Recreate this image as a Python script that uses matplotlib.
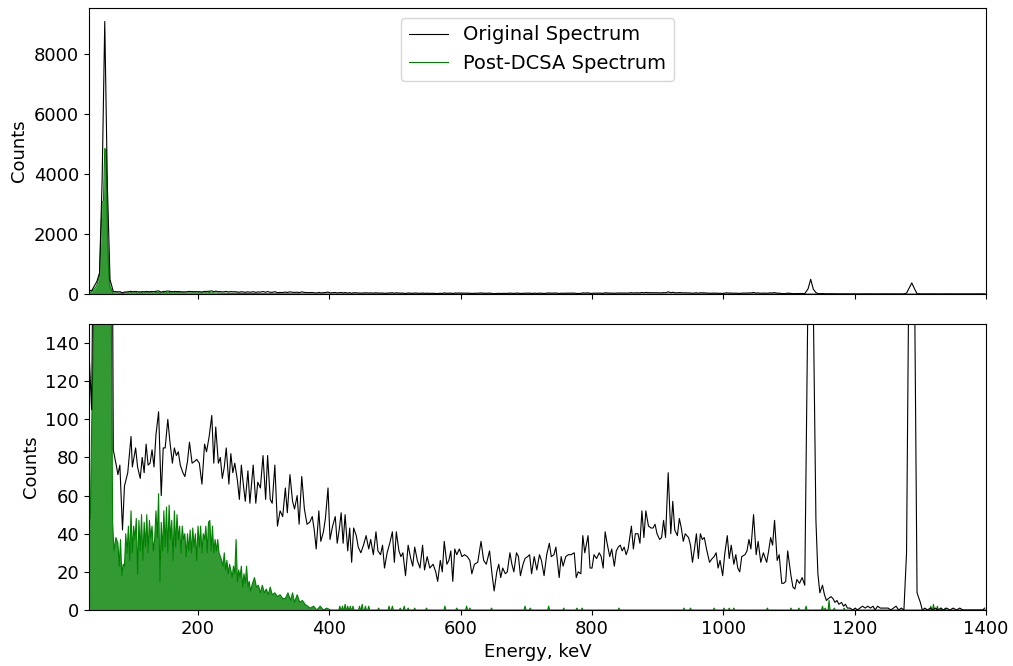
import numpy as np
import matplotlib
matplotlib.use("Agg")
import matplotlib.pyplot as plt
from matplotlib.lines import Line2D

# ---- Original spectrum (energy keV, counts) ----
orig_E = [34, 38, 42, 46, 50, 54, 58, 62, 66, 71, 76, 78, 81, 85, 88, 93, 98, 100, 105, 108,
          112, 115, 118, 121, 124, 127, 130, 133, 136, 140, 144, 147, 150, 154, 157, 161, 164, 167, 170, 173,
          177, 180, 184, 187, 191, 195, 198, 202, 206, 210, 213, 217, 221, 224, 227, 231, 234, 237, 240, 243,
          247, 250, 253, 256, 260, 263, 266, 269, 272, 276, 279, 284, 288, 291, 295, 299, 303, 306, 310, 313,
          317, 321, 325, 329, 333, 336, 340, 344, 347, 351, 354, 358, 362, 366, 370, 374, 377, 380, 384, 387,
          391, 394, 398, 401, 405, 409, 412, 415, 418, 421, 424, 428, 431, 434, 437, 441, 444, 448, 452, 456,
          460, 463, 467, 471, 474, 478, 481, 484, 488, 492, 496, 499, 502, 506, 509, 512, 516, 520, 524, 527,
          530, 534, 538, 542, 545, 549, 553, 558, 562, 565, 569, 572, 575, 579, 582, 585, 588, 591, 594, 598,
          602, 606, 610, 614, 617, 621, 626, 631, 635, 639, 644, 648, 651, 655, 658, 661, 664, 668, 671, 675,
          678, 681, 685, 688, 691, 695, 698, 702, 705, 708, 712, 716, 720, 723, 727, 731, 735, 738, 742, 745,
          750, 753, 756, 760, 764, 768, 773, 776, 779, 783, 786, 789, 794, 797, 800, 803, 807, 811, 814, 817,
          820, 823, 827, 830, 834, 837, 840, 843, 846, 849, 852, 855, 860, 863, 866, 870, 873, 876, 879, 882,
          886, 890, 893, 896, 899, 903, 906, 909, 912, 916, 920, 923, 926, 930, 933, 936, 939, 942, 947, 950,
          953, 956, 959, 962, 965, 968, 971, 975, 979, 983, 986, 989, 992, 995, 999, 1002, 1006, 1009, 1012, 1016,
          1019, 1022, 1025, 1028, 1033, 1036, 1039, 1042, 1046, 1050, 1053, 1057, 1061, 1066, 1069, 1072, 1075, 1078, 1082, 1085,
          1089, 1092, 1095, 1098, 1103, 1106, 1109, 1112, 1116, 1120, 1124, 1129, 1133, 1137, 1141, 1144, 1147, 1151, 1154, 1157,
          1160, 1164, 1167, 1170, 1173, 1176, 1180, 1183, 1186, 1189, 1193, 1197, 1201, 1204, 1208, 1212, 1216, 1220, 1224, 1228,
          1231, 1235, 1239, 1243, 1247, 1251, 1255, 1259, 1263, 1267, 1271, 1275, 1279, 1283, 1287, 1291, 1295, 1300, 1303, 1307,
          1311, 1315, 1319, 1323, 1327, 1331, 1335, 1340, 1345, 1350, 1355, 1360, 1365, 1380, 1395, 1398]
orig_C = [136, 105, 260, 420, 700, 3800, 9080, 3600, 480, 84, 75, 71, 76, 42, 65, 72, 91, 75, 85, 75,
          69, 80, 72, 87, 76, 77, 84, 75, 92, 104, 60, 85, 85, 100, 89, 77, 85, 81, 83, 76,
          72, 70, 78, 88, 77, 78, 79, 77, 66, 87, 83, 91, 102, 77, 96, 77, 80, 69, 75, 85,
          66, 82, 72, 77, 68, 58, 76, 66, 57, 73, 56, 76, 56, 67, 64, 81, 58, 81, 58, 56,
          76, 44, 52, 49, 64, 51, 71, 57, 53, 60, 45, 70, 53, 45, 46, 49, 42, 32, 52, 36,
          41, 48, 64, 37, 44, 49, 35, 42, 51, 35, 50, 31, 43, 25, 43, 39, 33, 30, 34, 39,
          32, 37, 29, 41, 31, 29, 34, 22, 30, 35, 41, 25, 41, 31, 28, 30, 18, 34, 27, 23,
          33, 26, 22, 34, 21, 28, 22, 24, 20, 15, 26, 20, 36, 24, 26, 31, 15, 32, 29, 32,
          28, 29, 28, 26, 19, 24, 25, 36, 26, 24, 31, 18, 10, 20, 24, 17, 22, 19, 20, 30,
          24, 20, 30, 28, 18, 24, 27, 28, 29, 19, 28, 21, 29, 26, 18, 29, 35, 28, 29, 33,
          17, 28, 23, 28, 29, 29, 30, 17, 20, 19, 39, 30, 39, 22, 22, 29, 27, 30, 28, 22,
          41, 35, 28, 32, 23, 31, 33, 34, 31, 33, 29, 32, 44, 32, 40, 40, 35, 52, 38, 52,
          44, 43, 43, 45, 40, 37, 38, 47, 38, 72, 40, 57, 42, 39, 48, 43, 36, 40, 38, 34,
          25, 32, 40, 27, 40, 37, 38, 31, 25, 27, 28, 30, 22, 26, 18, 29, 39, 27, 34, 24,
          29, 22, 20, 28, 29, 31, 37, 32, 50, 29, 36, 25, 30, 25, 31, 38, 34, 47, 26, 29,
          14, 14, 15, 31, 18, 12, 11, 16, 14, 17, 13, 170, 490, 160, 47, 19, 9, 13, 8, 5,
          6, 7, 6, 4, 5, 3, 4, 2, 3, 1, 1, 0, 1, 0, 1, 2, 1, 2, 1, 2,
          0, 2, 1, 1, 1, 1, 0, 1, 2, 0, 1, 0, 30, 200, 370, 180, 9, 4, 0, 1,
          0, 1, 0, 1, 0, 1, 0, 1, 0, 1, 0, 1, 0, 0, 0, 1]

# ---- Post-DCSA spectrum: continuous part (energy keV, counts) ----
dcsa_E = [34, 36, 38, 40, 42, 44, 46, 48, 50, 52, 54, 56, 58, 60, 62, 64, 66, 68, 70, 72,
          75, 78, 80, 82, 84, 86, 88, 90, 92, 94, 96, 98, 100, 102, 104, 106, 108, 110, 112, 114,
          116, 118, 120, 122, 124, 126, 128, 130, 132, 134, 136, 138, 140, 142, 144, 146, 148, 150, 152, 154,
          156, 158, 160, 162, 164, 166, 168, 170, 172, 174, 176, 178, 180, 182, 184, 186, 188, 190, 192, 194,
          196, 198, 200, 202, 204, 206, 208, 210, 212, 214, 216, 218, 220, 222, 224, 226, 228, 230, 232, 234,
          236, 238, 240, 242, 244, 246, 248, 250, 252, 254, 256, 258, 260, 262, 264, 266, 268, 270, 272, 274,
          276, 278, 280, 283, 286, 289, 292, 295, 298, 301, 304, 307, 310, 313, 317, 321, 325, 329, 333, 337,
          341, 344, 347, 351, 355, 359, 363, 367, 371, 376, 381, 386, 391, 396, 402]
dcsa_C = [55, 48, 95, 130, 170, 220, 300, 450, 600, 1800, 3070, 3100, 4850, 4800, 2000, 700, 250, 155, 46, 31,
          38, 35, 23, 37, 18, 24, 23, 40, 30, 44, 26, 52, 30, 44, 37, 48, 19, 47, 31, 50,
          26, 46, 33, 50, 30, 47, 38, 44, 31, 37, 52, 38, 61, 15, 46, 31, 52, 33, 54, 30,
          55, 37, 47, 26, 52, 33, 50, 37, 44, 30, 44, 37, 40, 28, 40, 31, 42, 30, 43, 33,
          40, 26, 44, 33, 44, 30, 40, 37, 44, 30, 46, 47, 31, 44, 30, 37, 31, 37, 30, 28,
          26, 23, 30, 21, 26, 19, 24, 21, 17, 23, 19, 37, 15, 21, 17, 23, 12, 19, 14, 23,
          12, 15, 10, 14, 17, 12, 13, 9, 13, 9, 11, 8, 12, 8, 9, 7, 8, 6, 6, 9,
          5, 9, 4, 8, 4, 5, 3, 2, 1, 2, 0, 2, 0, 1, 0]

# ---- Post-DCSA spectrum: isolated small spikes above 400 keV ----
spike_E = [416, 420, 424, 428, 432, 436, 446, 450, 455, 460, 475, 491, 496, 508, 514, 520, 530, 548, 576, 594,
           609, 614, 647, 698, 706, 734, 757, 777, 785, 841, 940, 950, 986, 1001, 1009, 1016, 1067, 1103, 1115, 1126,
           1151, 1155, 1161, 1169, 1184, 1316, 1320, 1326, 1332, 1338]
spike_C = [2, 2, 3, 2, 2, 2, 2, 3, 2, 2, 1, 2, 2, 1, 2, 1, 1, 1, 2, 1,
           2, 1, 1, 2, 1, 2, 1, 1, 1, 1, 1, 1, 1, 1, 1, 1, 1, 1, 1, 2,
           2, 1, 5, 1, 1, 2, 3, 2, 1, 1]

x_ticks = [200, 400, 600, 800, 1000, 1200, 1400]
top_yticks = [0, 2000, 4000, 6000, 8000]
bot_yticks = [0, 20, 40, 60, 80, 100, 120, 140]

# Build full post-DCSA trace (continuous part followed by isolated spikes)
gE = list(dcsa_E)
gC = list(dcsa_C)
for e, c in zip(spike_E, spike_C):
    gE += [e - 1.5, e, e + 1.5]
    gC += [0, c, 0]
gE += [1400]
gC += [0]
gE = np.array(gE, dtype=float)
gC = np.array(gC, dtype=float)
oE = np.array(orig_E, dtype=float)
oC = np.array(orig_C, dtype=float)

plt.rcParams['font.family'] = 'DejaVu Sans'
fig = plt.figure(figsize=(10.13, 6.66), dpi=100)
ax1 = fig.add_axes([89/1013, 1 - 294/666, 897/1013, 286/666])
ax2 = fig.add_axes([89/1013, 1 - 610/666, 897/1013, 286/666], sharex=ax1)

for ax in (ax1, ax2):
    ax.fill_between(gE, gC, 0, color='green', alpha=0.8, lw=0)
    ax.plot(gE, gC, color='green', lw=0.8)
    ax.plot(oE, oC, color='black', lw=0.8)
    ax.tick_params(labelsize=13)
    ax.set_ylabel('Counts', fontsize=13)
    for sp in ax.spines.values():
        sp.set_linewidth(0.8)

ax1.set_xlim(34, 1400)
ax1.set_ylim(0, 9530)
ax1.set_yticks(top_yticks)
ax1.set_xticks(x_ticks)
ax1.tick_params(labelbottom=False)
ax2.set_ylim(0, 150)
ax2.set_yticks(bot_yticks)
ax2.set_xlabel('Energy, keV', fontsize=13)

handles = [Line2D([], [], color='black', lw=0.8), Line2D([], [], color='green', lw=0.8)]
ax1.legend(handles, ['Original Spectrum', 'Post-DCSA Spectrum'], loc='upper center', fontsize=14)

fig.savefig('out.png', dpi=100)
